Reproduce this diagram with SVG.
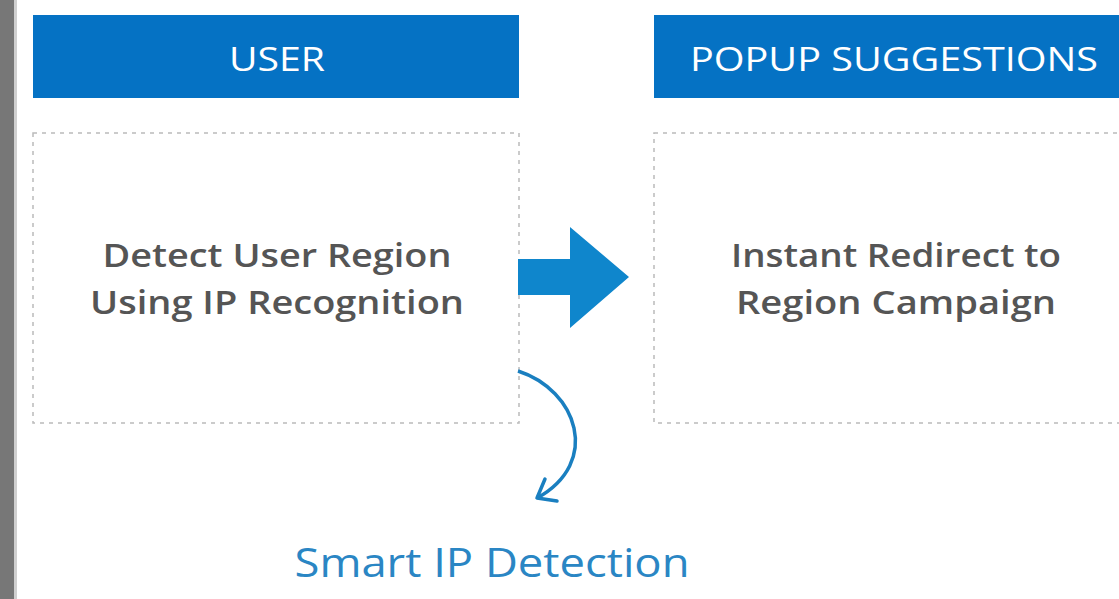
<svg xmlns="http://www.w3.org/2000/svg" width="1119" height="599" viewBox="0 0 1119 599">
<defs>
<style>
.hdr{fill:#0572c4}
.hdrt{fill:#fff;font-family:"Open Sans",Lato,sans-serif;font-size:32px;text-anchor:middle}
.box{fill:#fff;stroke:#bbb;stroke-width:1.5;stroke-dasharray:4 5}
.bt{fill:#555;font-family:"Open Sans",Lato,sans-serif;font-size:32px;font-weight:600;text-anchor:middle}
</style>
</defs>
<rect width="1119" height="599" fill="#fff"/>
<rect x="0" y="0" width="14" height="599" fill="#777"/>
<rect x="14" y="0" width="3" height="599" fill="#d0d0d0"/>
<g id="user">
<rect class="hdr" x="33" y="15" width="486" height="83"/>
<text class="hdrt" x="277" y="71" textLength="96" lengthAdjust="spacingAndGlyphs">USER</text>
<rect class="box" x="33" y="133" width="486" height="290"/>
<text class="bt" x="277" y="267" textLength="349" lengthAdjust="spacingAndGlyphs">Detect User Region</text>
<text class="bt" x="277" y="314" textLength="374" lengthAdjust="spacingAndGlyphs">Using IP Recognition</text>
</g>
<g id="popup">
<rect class="hdr" x="654" y="15" width="470" height="83"/>
<text class="hdrt" x="894" y="71" textLength="408" lengthAdjust="spacingAndGlyphs">POPUP SUGGESTIONS</text>
<rect class="box" x="654" y="133" width="480" height="290"/>
<text class="bt" x="896" y="267" textLength="330" lengthAdjust="spacingAndGlyphs">Instant Redirect to</text>
<text class="bt" x="896" y="314" textLength="320" lengthAdjust="spacingAndGlyphs">Region Campaign</text>
</g>
<g id="connectors">
<polygon points="518,259 570,259 570,227 629,277 570,328 570,295 518,295" fill="#0f86cc"/>
<path d="M518,371 C577,390 602,462 537,498" fill="none" stroke="#1a7fc0" stroke-width="3.5"/>
<path d="M545,479 L537,498 L557,501" fill="none" stroke="#1a7fc0" stroke-width="3.5" stroke-linecap="round" stroke-linejoin="round"/>
</g>
<g id="label">
<text x="492" y="577" fill="#2a86c4" font-family="'Open Sans',Lato,sans-serif" font-size="41" text-anchor="middle" textLength="395" lengthAdjust="spacingAndGlyphs">Smart IP Detection</text>
</g>
</svg>
